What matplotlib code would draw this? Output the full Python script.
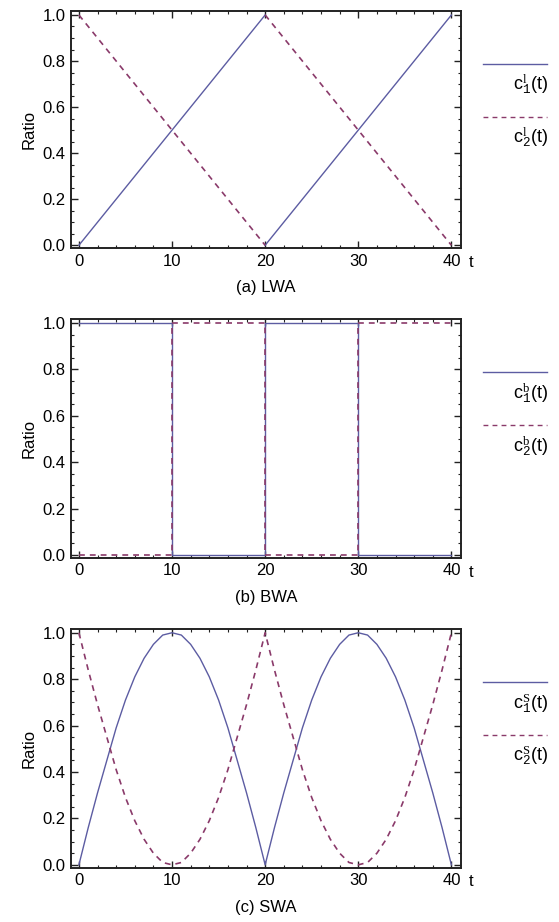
import numpy as np
import matplotlib
matplotlib.use("Agg")
import matplotlib.pyplot as plt
from matplotlib.ticker import MultipleLocator

# ── Style ──────────────────────────────────────────────────────────────────────
plt.rcParams.update({
    "font.family": ["Liberation Sans", "DejaVu Sans"],
    "mathtext.fontset": "custom",
    "mathtext.rm": "Liberation Mono",
    "mathtext.it": "Liberation Serif",   # upright serif for the superscripts
})

C1_COLOR = "#5c5ca2"   # solid blue-violet
C2_COLOR = "#8a3a6a"   # dashed maroon
FRAME = "#222222"

# ── Data ───────────────────────────────────────────────────────────────────────
# (a) linear weight adjustment, reset at t = 20
t_lwa = [0, 20, np.nan, 20, 40]
c1_lwa = [0.0, 1.0, np.nan, 0.0, 1.0]
c2_lwa = [1.0, 0.0, np.nan, 1.0, 0.0]

# (b) binary weight adjustment (steps, held until next switch)
t_bwa = [0, 10, 20, 30, 40]
c1_bwa = [1.0, 0.0, 1.0, 0.0, 0.0]
c2_bwa = [0.0, 1.0, 0.0, 1.0, 1.0]

# (c) sinusoidal weight adjustment, sampled every time unit
t_swa = list(range(0, 41))
c1_swa = [0.00, 0.16, 0.31, 0.45, 0.59, 0.71, 0.81, 0.89, 0.95, 0.99,
          1.00, 0.99, 0.95, 0.89, 0.81, 0.71, 0.59, 0.45, 0.31, 0.16,
          0.00, 0.16, 0.31, 0.45, 0.59, 0.71, 0.81, 0.89, 0.95, 0.99,
          1.00, 0.99, 0.95, 0.89, 0.81, 0.71, 0.59, 0.45, 0.31, 0.16,
          0.00]
c2_swa = [1.00, 0.84, 0.69, 0.55, 0.41, 0.29, 0.19, 0.11, 0.05, 0.01,
          0.00, 0.01, 0.05, 0.11, 0.19, 0.29, 0.41, 0.55, 0.69, 0.84,
          1.00, 0.84, 0.69, 0.55, 0.41, 0.29, 0.19, 0.11, 0.05, 0.01,
          0.00, 0.01, 0.05, 0.11, 0.19, 0.29, 0.41, 0.55, 0.69, 0.84,
          1.00]

x_ticks = [0, 10, 20, 30, 40]
y_ticks = [0.0, 0.2, 0.4, 0.6, 0.8, 1.0]

panels = [
    ("(a) LWA", "l", t_lwa, c1_lwa, c2_lwa, "default"),
    ("(b) BWA", "b", t_bwa, c1_bwa, c2_bwa, "steps-post"),
    ("(c) SWA", "S", t_swa, c1_swa, c2_swa, "default"),
]

# axes rectangles [left, bottom, width, height] in figure fractions
rects = [
    [0.127, 0.731, 0.698, 0.257],
    [0.127, 0.395, 0.698, 0.259],
    [0.127, 0.059, 0.698, 0.259],
]

fig = plt.figure(figsize=(5.59, 9.22), dpi=100)

for rect, (caption, sup, t, c1, c2, ds) in zip(rects, panels):
    ax = fig.add_axes(rect)
    ax.plot(t, c1, color=C1_COLOR, lw=1.0, drawstyle=ds)
    ax.plot(t, c2, color=C2_COLOR, lw=1.2, drawstyle=ds, dashes=(3.5, 3.0))

    ax.set_xlim(-0.85, 41.05)
    ax.set_ylim(-0.012, 1.017)
    ax.set_xticks(x_ticks)
    ax.set_yticks(y_ticks)
    ax.set_yticklabels([f"{v:.1f}" for v in y_ticks])
    ax.xaxis.set_minor_locator(MultipleLocator(2))
    ax.yaxis.set_minor_locator(MultipleLocator(0.05))
    ax.tick_params(which="both", direction="in", top=True, right=True,
                   color=FRAME, labelsize=12, pad=4)
    ax.tick_params(which="major", length=5, width=1.0)
    ax.tick_params(which="minor", length=2.5, width=0.8)
    for sp in ax.spines.values():
        sp.set_linewidth(1.4)
        sp.set_color(FRAME)

    ax.set_ylabel("Ratio", fontsize=12, labelpad=4)
    ax.text(0.5, -0.168, caption, transform=ax.transAxes, ha="center",
            va="center", fontsize=12)
    ax.text(1.025, -0.06, "t", transform=ax.transAxes, ha="center",
            va="center", fontsize=12)

    # legend keys with labels underneath
    ax.plot([1.056, 1.22], [0.777, 0.777], transform=ax.transAxes,
            color=C1_COLOR, lw=1.0, clip_on=False)
    ax.plot([1.056, 1.22], [0.555, 0.555], transform=ax.transAxes,
            color=C2_COLOR, lw=1.0, dashes=(3.5, 3.0), clip_on=False)
    ax.text(1.222, 0.69, rf"$\mathregular{{c}}_1^{{{sup}}}\mathregular{{(t)}}$",
            transform=ax.transAxes, ha="right", va="center", fontsize=13)
    ax.text(1.222, 0.47, rf"$\mathregular{{c}}_2^{{{sup}}}\mathregular{{(t)}}$",
            transform=ax.transAxes, ha="right", va="center", fontsize=13)

fig.savefig("out.png", dpi=100)
